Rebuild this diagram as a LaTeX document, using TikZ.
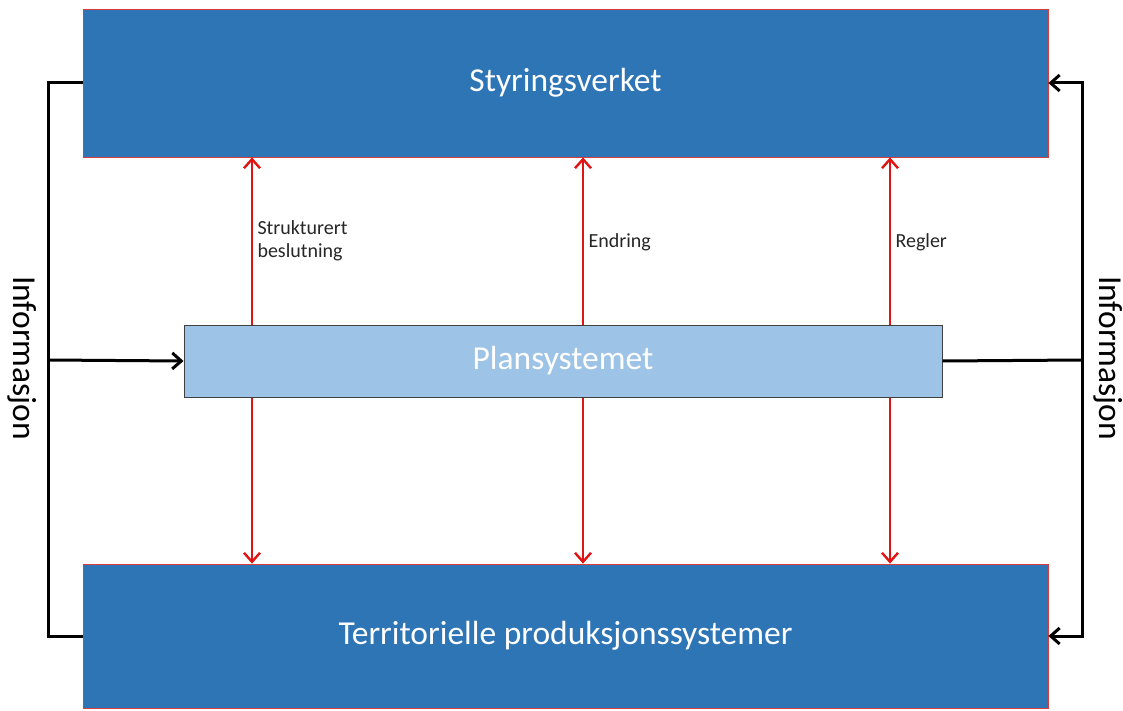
\documentclass[tikz,border=0pt]{standalone}
\usepackage{fontspec}
\setmainfont{Carlito}
\usetikzlibrary{arrows.meta,positioning}
\definecolor{boxblue}{RGB}{46,117,182}
\definecolor{planblue}{RGB}{157,195,230}
\definecolor{boxred}{RGB}{220,60,60}
\definecolor{arrred}{RGB}{225,20,20}

\begin{document}
\begin{tikzpicture}[x=1pt,y=-1pt,
  bigbox/.style={rectangle, draw=boxred, line width=0.8pt, fill=boxblue, text=white, minimum width=965pt, font=\fontsize{33.5}{40}\selectfont},
  planbox/.style={rectangle, draw=black!75, line width=1pt, fill=planblue, text=white, minimum width=758pt, minimum height=72pt, font=\fontsize{33.5}{40}\selectfont},
  redarr/.style={draw=arrred, line width=2.4pt, -{Straight Barb[length=9pt,width=16pt,line width=2.4pt]}},
  blkline/.style={draw=black, line width=3pt},
  blkarr/.style={blkline, -{Straight Barb[length=9pt,width=16pt,line width=3pt]}},
  lbl/.style={anchor=west, align=left, font=\fontsize{20}{23.5}\selectfont, text=black!85},
  info/.style={rotate=-90, font=\fontsize{33.5}{40}\selectfont}]
\useasboundingbox (0,0) rectangle (1123,711);
\node[bigbox, minimum height=148pt] (top) at (565.5,83){Styringsverket};
\node[bigbox, minimum height=144pt] (bot) at (565.5,636){Territorielle produksjonssystemer};
\node[planbox] (plan) at (563,361){Plansystemet};
\coordinate (c1) at (252,361);
\coordinate (c2) at (583,361);
\coordinate (c3) at (890,361);
\coordinate (lbus) at (48,360);
\coordinate (rbus) at (1082,360);
\foreach \c in {c1,c2,c3}{
  \draw[redarr] (plan.north -| \c) -- (top.south -| \c);
  \draw[redarr] (plan.south -| \c) -- (bot.north -| \c);
}
\node[lbl] (l1) at (254,241){Strukturert\\beslutning};
\node[lbl] (l2) at (585,242){Endring};
\node[lbl] (l3) at (892,242){Regler};
\draw[blkline] (top.west) -| (lbus) |- (bot.west);
\draw[blkarr] (lbus) -- (plan.west);
\draw[blkline] (plan.east) -- (rbus);
\draw[blkarr] (rbus) |- (top.east);
\draw[blkarr] (rbus) |- (bot.east);
\node[info] (i1) at (22,358){Informasjon};
\node[info] (i2) at (1108,358){Informasjon};
\end{tikzpicture}
\end{document}
